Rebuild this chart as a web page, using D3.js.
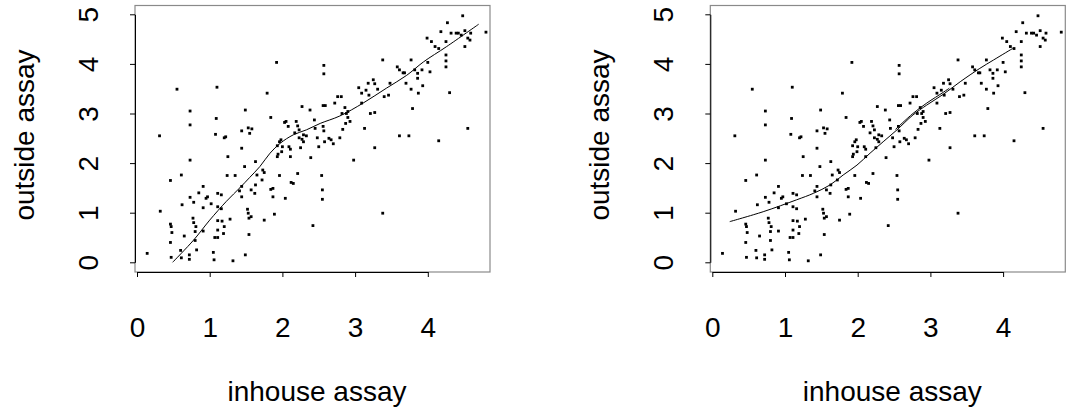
<!DOCTYPE html>
<html>
<head>
<meta charset="utf-8">
<script src="https://cdn.jsdelivr.net/npm/d3@7"></script>
<style>
  body { margin: 0; background: #fff; }
  svg { display: block; }
</style>
</head>
<body>
<svg id="chart" width="1067" height="409"></svg>
<script>
// points (same data in both panels)
const inhouse = [
  0.14, 0.31, 0.32, 0.46, 0.46, 0.47, 0.48, 0.46, 0.47, 0.55, 0.61, 0.62, 0.65, 0.60, 0.61,
  0.73, 0.73, 0.73, 0.73, 0.72, 0.72, 0.77, 0.78, 0.81, 0.80, 0.80, 0.82, 0.78, 0.85, 0.91,
  0.91, 0.91, 0.95, 0.97, 1.02, 1.09, 1.08, 1.10, 1.11, 1.16, 1.11, 1.16, 1.11, 1.11, 1.07,
  1.11, 1.05, 1.06, 1.20, 1.22, 1.25, 1.24, 1.17, 1.20, 1.19, 1.28, 1.32, 1.35, 1.44, 1.44,
  1.44, 1.44, 1.41, 1.49, 1.48, 1.49, 1.52, 1.53, 1.54, 1.57, 1.54, 1.53, 1.55, 1.58, 1.57,
  1.62, 1.63, 1.63, 1.65, 1.73, 1.75, 1.72, 1.75, 1.79, 1.84, 1.84, 1.87, 1.87, 1.89, 1.92,
  1.93, 1.93, 1.94, 1.96, 1.98, 1.96, 1.99, 2.00, 2.03, 2.05, 2.08, 2.04, 2.09, 2.11, 2.11,
  2.12, 2.15, 2.19, 2.21, 2.23, 2.17, 2.23, 2.21, 2.25, 2.27, 2.27, 2.29, 2.29, 2.33, 2.38,
  2.39, 2.42, 2.44, 2.45, 2.48, 2.50, 2.54, 2.55, 2.55, 2.57, 2.57, 2.56, 2.59, 2.56, 2.57,
  2.58, 2.64, 2.67, 2.70, 2.72, 2.76, 2.81, 2.79, 2.83, 2.82, 2.86, 2.88, 2.90, 2.87, 2.93,
  2.90, 2.98, 3.05, 3.09, 3.09, 3.13, 3.15, 3.18, 3.19, 3.21, 3.25, 3.27, 3.27, 3.27, 3.31,
  3.38, 3.38, 3.40, 3.46, 3.48, 3.58, 3.61, 3.61, 3.74, 3.66, 3.68, 3.70, 3.77, 3.77, 3.79,
  3.82, 3.86, 3.86, 3.87, 3.92, 3.93, 3.99, 4.00, 4.03, 4.05, 4.10, 4.15, 4.15, 4.18, 4.25,
  4.25, 4.25, 4.25, 4.27, 4.30, 4.32, 4.39, 4.42, 4.48, 4.46, 4.51, 4.51, 4.55, 4.55, 4.58,
  4.59, 4.80
];
const outside = [
  0.18, 2.55, 1.03, 1.65, 0.77, 0.72, 0.60, 0.40, 0.10, 3.49, 1.76, 1.16, 0.53, 0.24, 0.09,
  3.05, 2.77, 2.06, 1.31, 0.15, 0.06, 0.89, 0.80, 0.72, 0.62, 0.44, 0.25, 1.21, 1.40, 1.53,
  1.10, 0.63, 1.29, 1.32, 1.18, 2.90, 2.58, 3.53, 1.39, 1.36, 1.12, 1.08, 0.84, 0.65, 0.50,
  0.50, 0.20, 0.05, 2.51, 2.53, 2.13, 1.75, 0.83, 0.72, 0.58, 0.87, 0.03, 1.75, 2.30, 2.65,
  1.53, 1.32, 1.44, 3.07, 1.93, 0.15, 1.07, 0.99, 0.89, 0.92, 0.56, 2.71, 2.60, 2.69, 1.46,
  1.39, 1.56, 2.03, 1.76, 1.86, 1.81, 1.66, 0.85, 3.41, 2.92, 1.47, 1.49, 1.32, 0.97, 4.03,
  2.35, 2.13, 2.18, 2.43, 2.47, 1.75, 2.23, 2.33, 2.82, 2.84, 2.74, 1.29, 2.33, 2.28, 2.13,
  1.61, 1.59, 2.84, 2.75, 2.67, 2.61, 2.51, 1.79, 2.31, 3.14, 2.48, 2.43, 2.57, 2.55, 3.07,
  2.11, 0.74, 2.87, 2.70, 2.51, 2.33, 1.75, 1.46, 1.27, 3.97, 3.80, 3.16, 3.16, 2.74, 2.65,
  2.43, 2.50, 2.47, 2.39, 3.21, 3.34, 3.34, 2.51, 2.68, 3.00, 3.12, 3.00, 2.92, 2.80, 2.84,
  3.04, 2.06, 3.52, 3.41, 3.21, 2.70, 3.47, 3.61, 3.37, 3.00, 3.68, 3.60, 2.31, 3.02, 3.49,
  4.08, 0.99, 3.34, 3.37, 3.61, 3.94, 3.88, 2.55, 2.55, 3.82, 3.82, 3.61, 4.08, 3.49, 3.10,
  3.88, 3.81, 3.71, 3.41, 3.88, 3.56, 4.52, 4.03, 3.84, 4.45, 4.35, 4.31, 2.45, 4.65, 4.45,
  4.18, 4.06, 3.94, 4.83, 3.42, 4.62, 4.62, 4.62, 4.97, 4.58, 4.67, 4.35, 2.70, 4.52, 4.48,
  4.62, 4.64
];

// smoothed fits
const fitLeftX = [0.49, 0.78, 1.00, 1.23, 1.42, 1.55, 1.69, 1.83, 1.97, 2.15, 2.33, 2.52, 2.79, 3.11, 3.43, 3.71, 3.94, 4.26, 4.70];
const fitLeftY = [0.00, 0.45, 0.85, 1.23, 1.51, 1.71, 1.93, 2.20, 2.40, 2.57, 2.67, 2.80, 2.95, 3.21, 3.51, 3.77, 4.04, 4.35, 4.80];
const fitRightX = [0.24, 0.70, 1.16, 1.39, 1.62, 1.80, 1.99, 2.17, 2.35, 2.54, 2.76, 2.95, 3.18, 3.41, 3.68, 3.87, 4.13];
const fitRightY = [0.82, 1.02, 1.26, 1.39, 1.56, 1.76, 1.96, 2.20, 2.43, 2.67, 2.97, 3.17, 3.39, 3.64, 3.91, 4.08, 4.31];
// second stroke that doubles the right fit in the middle
const fitRight2X = [2.52, 2.76, 2.95, 3.18, 3.26];
const fitRight2Y = [2.68, 3.00, 3.21, 3.43, 3.51];

const xTicks = [0, 1, 2, 3, 4];
const yTicks = [0, 1, 2, 3, 4, 5];
const xLabel = "inhouse assay";
const yLabel = "outside assay";

const font = "'Liberation Sans', Arial, Helvetica, sans-serif";
const fontSize = 28;

const svg = d3.select("#chart");

// panel box in panel coords
const box = { left: 135, right: 490, top: 5.5, bottom: 272 };

const x = d3.scaleLinear().domain([0, 4]).range([137, 137 + 4 * 72.7]);
const y = d3.scaleLinear().domain([0, 5]).range([262.3, 14.3]);

const pts = inhouse.map((d, i) => ({ x: d, y: outside[i] }));

const line = d3
  .line()
  .x((d) => x(d[0]))
  .y((d) => y(d[1]))
  .curve(d3.curveCatmullRom);

function drawPanel(offset, fits) {
  const g = svg.append("g").attr("transform", `translate(${offset},0)`);

  g.append("rect")
    .attr("x", box.left)
    .attr("y", box.top)
    .attr("width", box.right - box.left)
    .attr("height", box.bottom - box.top)
    .attr("fill", "none")
    .attr("stroke", "#8a8a8a")
    .attr("stroke-width", 1.2);

  // points
  g.selectAll("rect.pt")
    .data(pts)
    .enter()
    .append("rect")
    .attr("class", "pt")
    .attr("x", (d) => x(d.x) - 1.4)
    .attr("y", (d) => y(d.y) - 1.4)
    .attr("width", 2.8)
    .attr("height", 2.8)
    .attr("fill", "#000");

  // fitted curve(s)
  fits.forEach(([fx, fy]) => {
    g.append("path")
      .datum(fx.map((d, i) => [d, fy[i]]))
      .attr("d", line)
      .attr("fill", "none")
      .attr("stroke", "#000")
      .attr("stroke-width", 1);
  });

  // axes
  const xAxis = g
    .append("g")
    .attr("transform", `translate(0,${box.bottom})`)
    .call(
      d3.axisBottom(x).tickValues(xTicks).tickFormat(d3.format("d"))
        .tickSize(5).tickSizeOuter(0).tickPadding(40)
    );

  const yAxis = g
    .append("g")
    .attr("transform", `translate(${box.left},0)`)
    .call(
      d3.axisLeft(y).tickValues(yTicks).tickFormat(d3.format("d"))
        .tickSize(5).tickSizeOuter(0)
    );

  [xAxis, yAxis].forEach((a) => {
    a.attr("font-family", font).attr("font-size", fontSize);
    a.select(".domain").attr("stroke", "#000");
    a.selectAll("text").attr("fill", "#000");
  });

  yAxis
    .selectAll("text")
    .attr("x", null)
    .attr("dy", null)
    .attr("text-anchor", "middle")
    .attr("transform", "translate(-37,0) rotate(-90)");

  // axis titles
  g.append("text")
    .attr("x", 317)
    .attr("y", 401)
    .attr("text-anchor", "middle")
    .attr("font-family", font)
    .attr("font-size", fontSize)
    .text(xLabel);

  g.append("text")
    .attr("transform", `translate(34,135) rotate(-90)`)
    .attr("text-anchor", "middle")
    .attr("font-family", font)
    .attr("font-size", fontSize)
    .text(yLabel);
}

drawPanel(0, [[fitLeftX, fitLeftY]]);
drawPanel(575.3, [[fitRightX, fitRightY], [fitRight2X, fitRight2Y]]);
</script>
</body>
</html>
